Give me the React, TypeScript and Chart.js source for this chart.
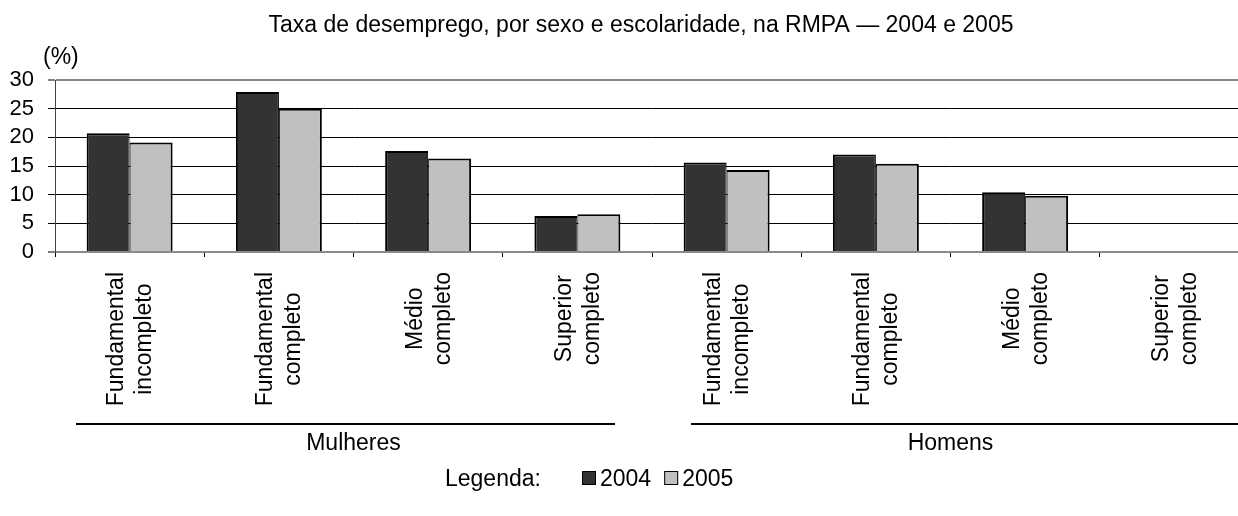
import React, { useEffect, useRef } from 'react';
import { Chart, registerables } from 'chart.js';

Chart.register(...registerables);

const TITLE = 'Taxa de desemprego, por sexo e escolaridade, na RMPA — 2004 e 2005';
const Y_UNIT = '(%)';
const CATEGORIES: string[][] = [
  ['Fundamental', 'incompleto'],
  ['Fundamental', 'completo'],
  ['Médio', 'completo'],
  ['Superior', 'completo'],
  ['Fundamental', 'incompleto'],
  ['Fundamental', 'completo'],
  ['Médio', 'completo'],
  ['Superior', 'completo'],
];
const GROUPS = ['Mulheres', 'Homens'];
const GROUP_SIZE = 4;
const SERIES_LABELS = ['2004', '2005'];
const VALUES_2004: (number | null)[] = [20.7, 27.9, 17.6, 6.3, 15.6, 17.0, 10.4, null];
const VALUES_2005: (number | null)[] = [19.1, 25.0, 16.3, 6.6, 14.3, 15.4, 9.8, null];
const Y_TICKS = [0, 5, 10, 15, 20, 25, 30];
const LEGEND_TITLE = 'Legenda:';

const FONT = "'Liberation Sans', Arial, Helvetica, sans-serif";
const GROUP_LINE_INSETS = [
  [21, 37],
  [39, -40],
];

const decor = {
  id: 'decor',
  afterDraw(chart: any) {
    const ctx: CanvasRenderingContext2D = chart.ctx;
    const xs = chart.scales.x;
    const area = chart.chartArea;
    ctx.save();
    ctx.fillStyle = '#000';

    // title
    ctx.font = `23px ${FONT}`;
    ctx.textAlign = 'center';
    ctx.textBaseline = 'alphabetic';
    ctx.fillText(TITLE, 641, 32);

    // unit
    ctx.textAlign = 'left';
    ctx.fillText(Y_UNIT, 43, 64);

    // category labels, rotated (reading bottom to top)
    const LH = 28;
    ctx.textAlign = 'center';
    CATEGORIES.forEach((lines, i) => {
      const cx = xs.getPixelForValue(i);
      const maxW = Math.max(...lines.map((l) => ctx.measureText(l).width));
      const cy = area.bottom + 20 + maxW / 2;
      lines.forEach((line, j) => {
        const bx = cx + (j - (lines.length - 1) / 2) * LH + 7.4;
        ctx.save();
        ctx.translate(bx, cy);
        ctx.rotate(-Math.PI / 2);
        ctx.fillText(line, 0, 0);
        ctx.restore();
      });
    });

    // group lines and labels
    const half = (xs.getPixelForValue(1) - xs.getPixelForValue(0)) / 2;
    GROUPS.forEach((g, gi) => {
      const l = xs.getPixelForValue(gi * GROUP_SIZE) - half;
      const r = xs.getPixelForValue(gi * GROUP_SIZE + GROUP_SIZE - 1) + half;
      const [il, ir] = GROUP_LINE_INSETS[gi];
      ctx.strokeStyle = '#000';
      ctx.lineWidth = 2;
      ctx.beginPath();
      ctx.moveTo(l + il, area.bottom + 172);
      ctx.lineTo(r - ir, area.bottom + 172);
      ctx.stroke();
      ctx.textAlign = 'center';
      ctx.fillText(g, (l + r) / 2, area.bottom + 198);
    });

    // legend
    ctx.textAlign = 'left';
    const ly = 486;
    ctx.fillText(LEGEND_TITLE, 445, ly);
    let bx = 582;
    chart.data.datasets.forEach((ds: any) => {
      ctx.fillStyle = ds.backgroundColor;
      ctx.fillRect(bx, ly - 15, 14, 14);
      ctx.strokeStyle = '#000';
      ctx.lineWidth = 1;
      ctx.strokeRect(bx + 0.5, ly - 14.5, 13, 13);
      ctx.fillStyle = '#000';
      ctx.fillText(ds.label, bx + 18, ly);
      bx += 18 + ctx.measureText(ds.label).width + 13;
    });

    ctx.restore();
  },
};

export default function App() {
  const ref = useRef<HTMLCanvasElement>(null);

  useEffect(() => {
    const canvas = ref.current!;
    const chart = new Chart(canvas, {
      type: 'bar',
      data: {
        labels: CATEGORIES as any,
        datasets: [
          {
            label: SERIES_LABELS[0],
            data: VALUES_2004,
            backgroundColor: '#333333',
            borderColor: '#000000',
            borderWidth: { top: 2, left: 2, right: 1, bottom: 0 } as any,
            categoryPercentage: 0.576,
            barPercentage: 1,
          },
          {
            label: SERIES_LABELS[1],
            data: VALUES_2005,
            backgroundColor: '#c0c0c0',
            borderColor: '#000000',
            borderWidth: { top: 2, left: 1, right: 2, bottom: 0 } as any,
            categoryPercentage: 0.576,
            barPercentage: 1,
          },
        ],
      },
      options: {
        responsive: false,
        animation: false,
        layout: { padding: { left: 0, top: 80, right: 31, bottom: 259 } },
        plugins: {
          legend: { display: false },
          title: { display: false },
          tooltip: { enabled: false },
        },
        scales: {
          x: {
            type: 'category',
            offset: true,
            grid: {
              offset: true,
              drawOnChartArea: false,
              drawTicks: true,
              tickLength: 5,
              color: '#000',
            },
            border: { color: '#8a8a8a', width: 2 },
            ticks: { display: false },
            afterFit: (s: any) => {
              s.height = 5;
            },
          },
          y: {
            min: 0,
            max: 30,
            afterBuildTicks: (s: any) => {
              s.ticks = Y_TICKS.map((v) => ({ value: v }));
            },
            ticks: {
              font: { family: FONT, size: 22 },
              color: '#000',
              padding: 14,
              autoSkip: false,
            },
            grid: {
              color: (c: any) =>
                c.tick && (c.tick.value === 0 || c.tick.value === 30) ? '#8a8a8a' : '#000',
              lineWidth: (c: any) =>
                c.tick && (c.tick.value === 0 || c.tick.value === 30) ? 2 : 1,
              tickColor: '#000',
              tickWidth: 1,
              tickLength: 7,
            },
            border: { color: '#444', width: 1 },
            afterFit: (s: any) => {
              s.width = 55;
            },
          },
        },
      } as any,
      plugins: [decor],
    });
    return () => chart.destroy();
  }, []);

  return (
    <div
      style={{
        position: 'fixed',
        left: 0,
        top: 0,
        width: 1238,
        height: 516,
        overflow: 'hidden',
        background: '#fff',
      }}
    >
      <canvas ref={ref} width={1280} height={516} style={{ display: 'block' }} />
    </div>
  );
}
